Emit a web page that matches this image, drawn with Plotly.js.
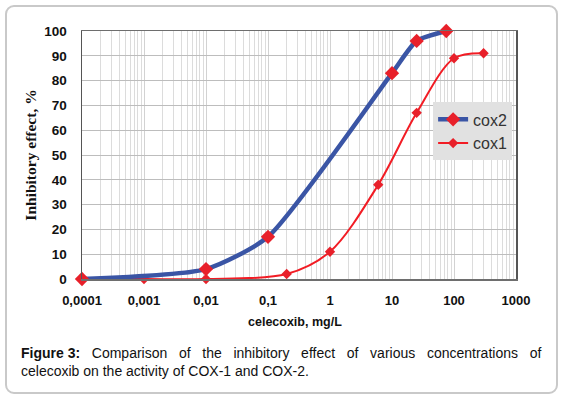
<!DOCTYPE html>
<html><head><meta charset="utf-8">
<script src="https://cdn.plot.ly/plotly-3.0.1.min.js"></script>
<style>
html,body{margin:0;padding:0;background:#fff;width:562px;height:397px;overflow:hidden;}
#frame{position:absolute;left:5px;top:5px;width:549px;height:385px;border:2px solid #c9c9c9;border-radius:9px;}
#chart{position:absolute;left:0;top:0;width:562px;height:397px;}
</style></head>
<body>
<div id="frame"></div>
<div id="chart"></div>
<script>
const xCox2 = [0.0001, 0.01, 0.1, 10, 25, 75];
const yCox2 = [0, 4, 17, 83, 96, 100];
const xCox1 = [0.0001, 0.001, 0.01, 0.2, 1, 6, 25, 100, 300];
const yCox1 = [0, 0, 0, 2, 11, 38, 67, 89, 91];
const xTickVals = [0.0001, 0.001, 0.01, 0.1, 1, 10, 100, 1000];
const xTickText = ['0,0001', '0,001', '0,01', '0,1', '1', '10', '100', '1000'];
const yTickVals = [0, 10, 20, 30, 40, 50, 60, 70, 80, 90, 100];

const traces = [
  {x: xCox1, y: yCox1, name: 'cox1', type: 'scatter', mode: 'lines+markers', cliponaxis: false,
   line: {color: '#f21c24', width: 2, shape: 'spline', smoothing: 0.9},
   marker: {symbol: 'diamond', size: 8, color: '#e8202a'}},
  {x: xCox2, y: yCox2, name: 'cox2', type: 'scatter', mode: 'lines+markers', cliponaxis: false,
   line: {color: '#3a55a5', width: 4.5, shape: 'spline', smoothing: 0.6},
   marker: {symbol: 'diamond', size: 11, color: '#e8202a'}}
];

const gap = '&nbsp;&nbsp;&nbsp;';
const line1 = ['<b>Figure&nbsp;3:</b>', 'Comparison', 'of', 'the', 'inhibitory', 'effect', 'of', 'various', 'concentrations', 'of'].join(gap);

const layout = {
  width: 562, height: 397,
  margin: {l: 82, r: 46, t: 31, b: 118},
  paper_bgcolor: 'rgba(0,0,0,0)', plot_bgcolor: '#fff',
  showlegend: true,
  legend: {x: 0.809, y: 0.712, xanchor: 'left', yanchor: 'top', traceorder: 'reversed',
    bgcolor: '#e1e1e1', font: {family: 'Liberation Sans, Arial', size: 16, color: '#333'},
    itemwidth: 30},
  xaxis: {type: 'log', range: [-4, 3], tickvals: xTickVals, ticktext: xTickText,
    showgrid: true, gridcolor: '#d2d2d2', gridwidth: 1,
    minor: {showgrid: true, gridcolor: '#dcdcdc', dtick: 'D1', ticks: ''},
    showline: true, mirror: true, linecolor: '#6e6e6e', linewidth: 1.5,
    ticks: '', ticklabelstandoff: 9, zeroline: false,
    tickfont: {family: 'Liberation Sans, Arial', size: 13, color: '#111', weight: 'bold'}},
  yaxis: {range: [0, 100], tickvals: yTickVals, showgrid: true, gridcolor: '#bdbdbd',
    showline: true, mirror: true, linecolor: '#555', linewidth: 1.5,
    ticks: '', ticklabelstandoff: 11, zeroline: false,
    tickfont: {family: 'Liberation Sans, Arial', size: 13.5, color: '#111', weight: 'bold'},
    title: {text: 'Inhibitory effect, %', standoff: 4,
      font: {family: 'Liberation Serif, Times New Roman', size: 15.5, color: '#111', weight: 'bold'}}},
  annotations: [
    {xref: 'paper', yref: 'paper', x: 0.49, y: -0.173, xanchor: 'center', yanchor: 'middle',
     showarrow: false, text: '<b>celecoxib, mg/L</b>',
     font: {family: 'Liberation Sans, Arial', size: 12.5, color: '#111'}},
    {xref: 'paper', yref: 'paper', x: -0.1452, y: -0.298, xanchor: 'left', yanchor: 'middle',
     showarrow: false, align: 'left', text: line1,
     font: {family: 'Liberation Sans, Arial', size: 14, color: '#111'}},
    {xref: 'paper', yref: 'paper', x: -0.1452, y: -0.371, xanchor: 'left', yanchor: 'middle',
     showarrow: false, align: 'left',
     text: 'celecoxib on the activity of COX-1 and COX-2.',
     font: {family: 'Liberation Sans, Arial', size: 14, color: '#111'}}
  ]
};

Plotly.newPlot('chart', traces, layout, {displayModeBar: false, staticPlot: true});
</script>
</body></html>
